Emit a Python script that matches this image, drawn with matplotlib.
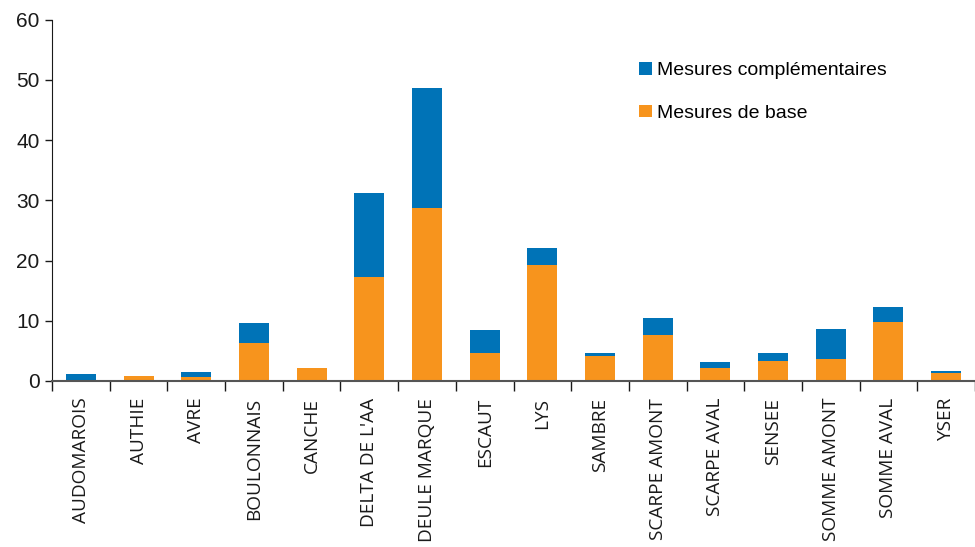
import numpy as np
import matplotlib.pyplot as plt

# Nombre de mesures par bassin versant
bassins = ["AUDOMAROIS", "AUTHIE", "AVRE", "BOULONNAIS", "CANCHE", "DELTA DE L'AA",
           "DEULE MARQUE", "ESCAUT", "LYS", "SAMBRE", "SCARPE AMONT", "SCARPE AVAL",
           "SENSEE", "SOMME AMONT", "SOMME AVAL", "YSER"]
base = [0.2, 0.8, 0.7, 6.3, 2.2, 17.2, 28.7, 4.6, 19.2, 4.1, 7.6, 2.2, 3.3, 3.6, 9.8, 1.3]
complementaires = [1.0, 0.0, 0.8, 3.3, 0.0, 14.0, 19.9, 3.8, 2.9, 0.5, 2.8, 1.0, 1.3, 5.0, 2.5, 0.35]

orange = "#F7941D"
bleu = "#0073B7"

fig = plt.figure(figsize=(9.75, 5.47), dpi=100)
ax = fig.add_axes([52 / 975, 166 / 547, 1 - 52 / 975, 361.5 / 547])

x = np.arange(len(bassins))
b1 = ax.bar(x, base, width=0.52, color=orange, label="Mesures de base", zorder=2)
b2 = ax.bar(x, complementaires, width=0.52, bottom=base, color=bleu,
            label="Mesures complémentaires", zorder=2)

ax.set_ylim(0, 60)
ax.set_xlim(-0.5, 15.41)
ax.set_yticks(range(0, 61, 10))
ax.tick_params(axis="y", direction="out", length=5, width=1, labelsize=15, pad=4,
               colors="#1a1a1a")
for lab in ax.get_yticklabels():
    lab.set_family("Liberation Sans")

ax.set_xticks(x)
ax.set_xticklabels(bassins, rotation=90, family="Open Sans", fontsize=13.7, color="#1a1a1a")
ax.tick_params(axis="x", which="major", length=0, pad=12)
ax.set_xticks(np.arange(-0.5, len(bassins), 1), minor=True)
ax.tick_params(axis="x", which="minor", direction="out", length=7, width=1, color="#1a1a1a")

for s in ["top", "right"]:
    ax.spines[s].set_visible(False)
ax.spines["left"].set_color("#1a1a1a")
ax.spines["bottom"].set_color("#555555")
ax.spines["bottom"].set_linewidth(1.5)

leg = ax.legend(handles=[b2, b1], loc="upper left", bbox_to_anchor=(0.617, 0.93),
                frameon=False, prop={"family": "Liberation Sans", "size": 14},
                handlelength=0.65, handleheight=0.6, handletextpad=0.3, labelspacing=1.3)

fig.savefig("out.png", dpi=100)
